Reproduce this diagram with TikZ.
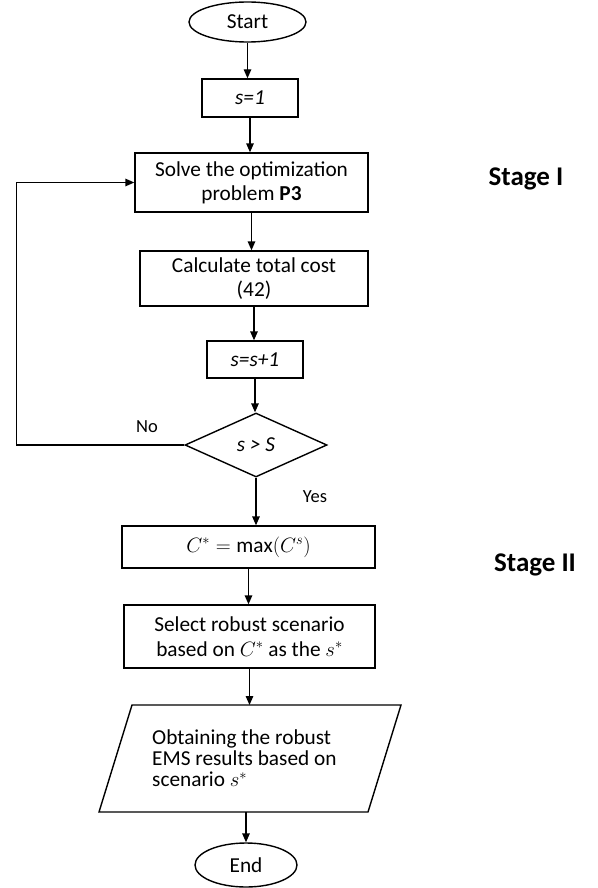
\documentclass[tikz,border=0pt]{standalone}
\usepackage{fontspec}
\setmainfont{Carlito}
\usetikzlibrary{shapes.geometric,arrows.meta}
\begin{document}
\begin{tikzpicture}[x=1pt,y=-1pt,
  every node/.style={inner sep=0pt},
  box/.style={draw, line width=1.4pt, rectangle, align=center, font=\fontsize{21.3}{24}\selectfont},
  term/.style={draw, line width=1.4pt, ellipse, font=\fontsize{21.3}{24}\selectfont},
  decbox/.style={draw, line width=1.4pt, diamond, font=\fontsize{21.3}{24}\selectfont},
  lbl/.style={font=\fontsize{18.5}{20}\selectfont},
  stagelbl/.style={font=\fontsize{27}{30}\selectfont\bfseries, anchor=base},
  arr/.style={-{Triangle[length=9pt,width=7.5pt]}, line width=1.4pt},
  line/.style={line width=1.4pt}]
\useasboundingbox (0,0) rectangle (597,888);

\node[term, minimum width=117, minimum height=40] (start) at (247.5,22) {Start};
\node[box, minimum width=96, minimum height=38] (s1) at (250,98) {\itshape s=1};
\node[box, minimum width=233, minimum height=59] (solve) at (251.5,182.5) {Solve the optimization\\problem \textbf{P3}};
\node[box, minimum width=228, minimum height=55] (calc) at (254,278.5) {Calculate total cost\\(42)};
\node[box, minimum width=96, minimum height=37] (inc) at (255,359.5) {\itshape s=s+1};
\node[decbox, minimum width=142, minimum height=64] (dec) at (256,445) {\itshape s > S};
\node[box, minimum width=253, minimum height=42] (cmax) at (248.5,547) {$C^{*}=\mathrm{max}(C^{s})$};
\node[box, minimum width=251, minimum height=63] (sel) at (249.5,636.5) {Select robust scenario\\[1pt]based on $C^{*}$ as the $s^{*}$};

\coordinate (pTL) at (132,705);
\coordinate (pTR) at (401,705);
\coordinate (pBR) at (368,812);
\coordinate (pBL) at (99,812);
\draw[line] (pTL) -- (pTR) -- (pBR) -- (pBL) -- cycle;
\node[anchor=north west, align=left, font=\fontsize{21.3}{21}\selectfont] (obt) at (152,730) {Obtaining the robust\\EMS results based on\\scenario $s^{*}$};
\coordinate (obttop) at (252,705);
\coordinate (obtbot) at (246,812);

\node[term, minimum width=102, minimum height=44] (end) at (246,865) {End};

\node[lbl] (no) at (147,427) {No};
\node[lbl] (yes) at (315,497) {Yes};
\node[stagelbl] (st1) at (526,185) {Stage I};
\node[stagelbl] (st2) at (535,571) {Stage II};

\draw[arr] (start.south) -- (start.south |- s1.north);
\draw[arr] (s1.south) -- (s1.south |- solve.north);
\draw[arr] (solve.south) -- (solve.south |- calc.north);
\draw[arr] (calc.south) -- (calc.south |- inc.north);
\draw[arr] (inc.south) -- (inc.south |- dec.north);
\draw[arr] (dec.south) -- (dec.south |- cmax.north);
\draw[arr] (cmax.south) -- (cmax.south |- sel.north);
\draw[arr] (sel.south) -- (sel.south |- obttop);
\draw[arr] (obtbot) -- (obtbot |- end.north);
\draw[arr] (dec.west) -- ++(-168,0) |- (solve.west);
\end{tikzpicture}
\end{document}
